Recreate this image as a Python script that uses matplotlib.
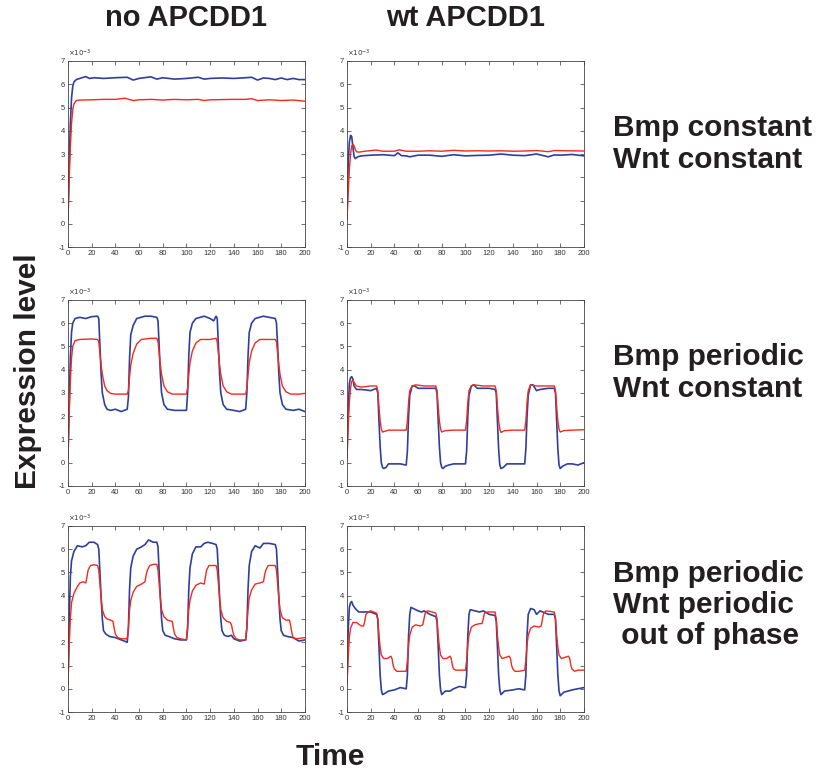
import matplotlib
matplotlib.use('Agg')
import matplotlib.pyplot as plt

# values in units of 1e-3 as (time, level)
# row 1: Bmp constant / Wnt constant
blue_cc_no = [(0, 0.2), (1, 2.5), (2, 4.3), (3, 5.4), (4, 5.9), (5, 6.1), (7, 6.2), (10, 6.25), (15, 6.33),
              (18, 6.25), (22, 6.28), (30, 6.25), (40, 6.28), (50, 6.3), (55, 6.18), (60, 6.25), (70, 6.32),
              (75, 6.22), (80, 6.28), (90, 6.22), (100, 6.25), (110, 6.3), (115, 6.22), (120, 6.25), (130, 6.27),
              (140, 6.25), (150, 6.28), (155, 6.3), (160, 6.18), (165, 6.27), (170, 6.25), (175, 6.2), (180, 6.27),
              (185, 6.2), (190, 6.25), (195, 6.2), (200, 6.2)]
red_cc_no = [(0, 0.2), (1, 1.8), (2, 3.3), (3, 4.3), (4, 4.9), (5, 5.15), (7, 5.3), (10, 5.32), (20, 5.33),
             (30, 5.35), (40, 5.35), (48, 5.4), (55, 5.3), (60, 5.33), (70, 5.35), (80, 5.32), (90, 5.35),
             (100, 5.33), (110, 5.35), (115, 5.3), (120, 5.33), (130, 5.34), (140, 5.35), (150, 5.35),
             (155, 5.38), (160, 5.3), (170, 5.33), (180, 5.3), (190, 5.32), (200, 5.27)]
blue_cc_wt = [(0, 0.2), (1, 2.6), (2, 3.5), (3, 3.8), (4, 3.75), (5, 3.3), (6, 2.9), (7, 2.8), (9, 2.88),
              (12, 2.92), (20, 2.95), (30, 2.97), (40, 2.93), (43, 3.05), (46, 2.93), (50, 2.92), (53, 2.88),
              (60, 2.95), (70, 2.95), (80, 2.9), (90, 2.97), (100, 2.92), (110, 2.94), (120, 2.95), (130, 3.0),
              (140, 2.95), (150, 2.93), (160, 3.0), (170, 2.88), (175, 2.96), (180, 2.95), (190, 2.98), (200, 2.92)]
red_cc_wt = [(0, 0.2), (1, 1.3), (2, 2.3), (3, 3.0), (4, 3.35), (5, 3.42), (6, 3.35), (7, 3.2), (8, 3.1),
             (10, 3.08), (15, 3.12), (25, 3.17), (30, 3.12), (40, 3.12), (44, 3.18), (50, 3.12), (60, 3.12),
             (70, 3.14), (80, 3.12), (90, 3.16), (100, 3.13), (110, 3.14), (120, 3.13), (130, 3.14), (140, 3.12),
             (150, 3.13), (160, 3.15), (170, 3.1), (175, 3.15), (185, 3.14), (200, 3.13)]

# row 2: Bmp periodic / Wnt constant
blue_pc_no = [(0, 0.2), (1, 2.5), (2, 4.5), (3, 5.6), (4, 6.0), (6, 6.2), (10, 6.25), (15, 6.2), (20, 6.28),
              (25, 6.3), (26, 6.2), (27, 5.0), (28, 3.8), (29, 3.0), (31, 2.5), (33, 2.3), (36, 2.25), (40, 2.3),
              (45, 2.2), (50, 2.3), (51, 2.8), (52, 4.5), (53, 5.5), (55, 5.9), (58, 6.2), (65, 6.3), (70, 6.3),
              (75, 6.25), (76, 6.1), (77, 5.0), (78, 3.8), (79, 3.0), (81, 2.5), (84, 2.3), (90, 2.25),
              (95, 2.25), (100, 2.25), (101, 3.0), (102, 4.6), (103, 5.6), (105, 6.0), (108, 6.2), (115, 6.3),
              (120, 6.2), (123, 6.1), (125, 6.3), (126, 6.2), (127, 5.0), (128, 3.8), (129, 3.0), (131, 2.5),
              (134, 2.3), (140, 2.25), (145, 2.2), (150, 2.3), (151, 3.0), (152, 4.6), (153, 5.6), (155, 6.0),
              (158, 6.2), (165, 6.3), (170, 6.25), (175, 6.2), (176, 6.0), (177, 5.0), (178, 3.8), (179, 3.0),
              (181, 2.5), (184, 2.3), (190, 2.25), (195, 2.3), (200, 2.2)]
red_pc_no = [(0, 0.2), (1, 2.0), (2, 3.5), (3, 4.5), (4, 5.0), (6, 5.25), (10, 5.3), (20, 5.32), (25, 5.3),
             (26, 5.2), (27, 4.7), (28, 4.2), (29, 3.8), (31, 3.3), (33, 3.1), (36, 2.98), (40, 2.95), (45, 2.95),
             (50, 2.95), (51, 3.1), (52, 3.7), (53, 4.2), (55, 4.7), (58, 5.1), (62, 5.3), (70, 5.35), (75, 5.35),
             (76, 5.2), (77, 4.7), (78, 4.2), (79, 3.8), (81, 3.3), (84, 3.05), (88, 2.95), (95, 2.95),
             (100, 2.95), (101, 3.2), (102, 3.8), (103, 4.3), (105, 4.8), (108, 5.15), (112, 5.3), (120, 5.3),
             (125, 5.35), (126, 5.2), (127, 4.7), (128, 4.2), (129, 3.8), (131, 3.3), (134, 3.05), (138, 2.95),
             (145, 2.95), (150, 2.95), (151, 3.2), (152, 3.8), (153, 4.3), (155, 4.8), (158, 5.15), (162, 5.3),
             (170, 5.3), (175, 5.3), (176, 5.2), (177, 4.7), (178, 4.2), (179, 3.8), (181, 3.3), (184, 3.05),
             (188, 2.95), (195, 2.95), (200, 2.98)]
blue_pc_wt = [(0, 0.2), (1, 2.3), (2, 3.4), (3, 3.65), (4, 3.7), (5, 3.6), (6, 3.3), (8, 3.15), (12, 3.15),
              (20, 3.1), (25, 3.2), (26, 3.0), (27, 1.8), (28, 0.7), (29, 0.0), (30, -0.2), (31, -0.25),
              (33, -0.2), (35, -0.05), (40, -0.05), (45, -0.05), (50, -0.1), (51, 0.5), (52, 2.0), (53, 2.9),
              (55, 3.3), (57, 3.3), (60, 3.2), (65, 3.2), (70, 3.2), (75, 3.2), (76, 3.0), (77, 1.8), (78, 0.7),
              (79, 0.0), (80, -0.2), (81, -0.25), (83, -0.15), (86, -0.1), (90, -0.05), (95, -0.05), (100, -0.05),
              (101, 0.5), (102, 2.0), (103, 2.9), (105, 3.3), (107, 3.35), (110, 3.2), (120, 3.2), (125, 3.15),
              (126, 3.0), (127, 1.8), (128, 0.6), (129, -0.1), (130, -0.25), (132, -0.2), (135, -0.05),
              (140, -0.05), (145, -0.05), (150, -0.05), (151, 0.6), (152, 2.0), (153, 2.9), (155, 3.35),
              (157, 3.35), (160, 3.1), (163, 3.15), (170, 3.2), (175, 3.2), (176, 3.0), (177, 1.8), (178, 0.6),
              (179, -0.1), (180, -0.25), (182, -0.15), (186, -0.05), (190, -0.05), (195, -0.1), (200, 0.0)]
red_pc_wt = [(0, 0.2), (1, 1.5), (2, 2.6), (3, 3.2), (4, 3.5), (5, 3.55), (6, 3.45), (8, 3.3), (12, 3.25),
             (20, 3.3), (25, 3.3), (26, 3.1), (27, 2.4), (28, 1.8), (29, 1.45), (30, 1.32), (32, 1.35), (35, 1.4),
             (40, 1.4), (45, 1.4), (50, 1.4), (51, 1.8), (52, 2.6), (53, 3.1), (55, 3.3), (58, 3.35), (65, 3.3),
             (70, 3.3), (75, 3.3), (76, 3.1), (77, 2.4), (78, 1.8), (79, 1.45), (80, 1.32), (83, 1.38),
             (90, 1.4), (100, 1.4), (101, 1.8), (102, 2.6), (103, 3.1), (105, 3.3), (107, 3.35), (115, 3.3),
             (125, 3.3), (126, 3.1), (127, 2.4), (128, 1.8), (129, 1.45), (130, 1.3), (133, 1.38), (140, 1.4),
             (150, 1.4), (151, 1.8), (152, 2.6), (153, 3.1), (155, 3.35), (160, 3.3), (170, 3.3), (175, 3.3),
             (176, 3.1), (177, 2.4), (178, 1.8), (179, 1.45), (180, 1.32), (183, 1.38), (190, 1.4), (200, 1.42)]

# row 3: Bmp periodic / Wnt periodic out of phase
blue_pp_no = [(0, 0.2), (1, 2.8), (2, 4.8), (3, 5.5), (5, 5.9), (8, 6.15), (12, 6.1), (15, 6.15), (18, 6.3),
              (22, 6.3), (25, 6.2), (26, 6.0), (27, 5.0), (28, 3.9), (29, 3.0), (30, 2.5), (32, 2.35), (35, 2.25),
              (40, 2.2), (45, 2.1), (50, 2.0), (51, 2.6), (52, 4.3), (53, 5.2), (55, 5.7), (58, 6.0), (62, 6.1),
              (65, 6.2), (68, 6.4), (72, 6.3), (75, 6.3), (76, 6.1), (77, 5.0), (78, 3.9), (79, 3.0), (80, 2.5),
              (82, 2.3), (85, 2.25), (90, 2.15), (95, 2.1), (100, 2.1), (101, 2.6), (102, 4.3), (103, 5.2),
              (105, 5.8), (108, 6.1), (112, 6.1), (115, 6.25), (118, 6.3), (122, 6.25), (125, 6.2), (126, 6.0),
              (127, 5.0), (128, 3.9), (129, 3.0), (130, 2.5), (132, 2.3), (135, 2.25), (138, 2.3), (140, 2.15),
              (145, 2.05), (150, 2.1), (151, 2.6), (152, 4.3), (153, 5.3), (155, 5.9), (158, 6.15), (162, 6.05),
              (165, 6.25), (170, 6.25), (175, 6.2), (176, 6.0), (177, 5.0), (178, 3.9), (179, 3.0), (180, 2.5),
              (182, 2.3), (185, 2.25), (190, 2.2), (195, 2.05), (200, 2.1)]
red_pp_no = [(0, 0.2), (1, 1.8), (2, 3.0), (3, 3.7), (5, 4.1), (8, 4.4), (10, 4.55), (13, 4.6), (15, 4.55),
             (16, 4.8), (17, 5.1), (19, 5.3), (22, 5.33), (25, 5.3), (26, 5.1), (27, 4.5), (28, 3.9), (29, 3.4),
             (31, 3.1), (33, 3.0), (36, 2.95), (38, 2.9), (39, 2.6), (40, 2.35), (42, 2.2), (45, 2.15),
             (50, 2.15), (51, 2.6), (52, 3.4), (53, 3.8), (55, 4.15), (58, 4.4), (62, 4.5), (65, 4.6), (66, 4.9),
             (67, 5.1), (69, 5.3), (72, 5.35), (75, 5.35), (76, 5.1), (77, 4.5), (78, 3.9), (79, 3.4), (81, 3.1),
             (84, 2.95), (88, 2.9), (89, 2.6), (90, 2.35), (92, 2.2), (95, 2.15), (100, 2.1), (101, 2.7),
             (102, 3.4), (103, 3.8), (105, 4.2), (108, 4.45), (112, 4.55), (115, 4.5), (116, 4.8), (117, 5.1),
             (119, 5.3), (125, 5.3), (126, 5.1), (127, 4.5), (128, 3.9), (129, 3.4), (131, 3.05), (134, 2.9),
             (137, 2.85), (138, 2.75), (139, 2.5), (140, 2.3), (142, 2.15), (145, 2.1), (150, 2.1), (151, 2.7),
             (152, 3.4), (153, 3.9), (155, 4.25), (158, 4.5), (162, 4.55), (165, 4.6), (166, 4.9), (167, 5.1),
             (169, 5.3), (175, 5.3), (176, 5.1), (177, 4.5), (178, 3.9), (179, 3.4), (181, 3.05), (184, 2.95),
             (187, 2.95), (188, 2.7), (189, 2.4), (190, 2.2), (193, 2.15), (200, 2.2)]
blue_pp_wt = [(0, 0.2), (1, 2.5), (2, 3.5), (3, 3.7), (4, 3.75), (5, 3.6), (7, 3.45), (10, 3.3), (15, 3.3),
              (20, 3.3), (25, 3.2), (26, 3.0), (27, 1.8), (28, 0.6), (29, -0.05), (30, -0.25), (32, -0.2),
              (35, -0.1), (40, -0.05), (45, 0.05), (50, 0.0), (51, 0.6), (52, 2.3), (53, 3.2), (54, 3.5),
              (56, 3.45), (60, 3.35), (63, 3.3), (65, 3.35), (70, 3.2), (75, 3.1), (76, 2.9), (77, 1.8), (78, 0.6),
              (79, -0.05), (80, -0.25), (83, -0.1), (87, -0.1), (90, 0.0), (95, 0.1), (100, 0.05), (101, 0.6),
              (102, 2.3), (103, 3.2), (104, 3.4), (108, 3.35), (112, 3.3), (115, 3.35), (120, 3.2), (125, 3.15),
              (126, 2.9), (127, 1.8), (128, 0.6), (129, -0.05), (130, -0.25), (133, -0.1), (140, -0.05),
              (145, 0.0), (150, -0.05), (151, 0.6), (152, 2.3), (153, 3.2), (155, 3.45), (158, 3.4), (160, 3.2),
              (163, 3.35), (170, 3.2), (175, 3.2), (176, 3.0), (177, 1.8), (178, 0.6), (179, -0.1), (180, -0.3),
              (183, -0.15), (190, -0.05), (195, 0.0), (200, 0.05)]
red_pp_wt = [(0, 0.2), (1, 1.3), (2, 2.2), (3, 2.6), (5, 2.85), (8, 2.85), (12, 2.7), (14, 2.7), (15, 2.9),
             (16, 3.2), (18, 3.3), (20, 3.35), (25, 3.25), (26, 3.0), (27, 2.3), (28, 1.8), (29, 1.45), (31, 1.3),
             (34, 1.3), (37, 1.4), (38, 1.3), (39, 1.0), (40, 0.85), (42, 0.75), (45, 0.75), (50, 0.75),
             (51, 1.2), (52, 1.9), (53, 2.3), (55, 2.65), (58, 2.75), (62, 2.7), (64, 2.75), (65, 3.0),
             (66, 3.25), (68, 3.35), (72, 3.3), (75, 3.25), (76, 3.0), (77, 2.3), (78, 1.8), (79, 1.45),
             (81, 1.3), (84, 1.3), (87, 1.4), (88, 1.3), (89, 1.0), (90, 0.85), (92, 0.8), (95, 0.8), (100, 0.8),
             (101, 1.2), (102, 1.9), (103, 2.3), (105, 2.65), (108, 2.75), (112, 2.8), (114, 2.8), (115, 3.0),
             (116, 3.25), (118, 3.3), (125, 3.3), (126, 3.0), (127, 2.3), (128, 1.8), (129, 1.45), (131, 1.3),
             (134, 1.35), (137, 1.4), (138, 1.3), (139, 1.0), (140, 0.85), (142, 0.75), (145, 0.75), (150, 0.8),
             (151, 1.2), (152, 1.9), (153, 2.3), (155, 2.6), (158, 2.7), (162, 2.65), (164, 2.7), (165, 3.0),
             (166, 3.25), (168, 3.35), (175, 3.3), (176, 3.0), (177, 2.3), (178, 1.8), (179, 1.45), (181, 1.3),
             (184, 1.35), (187, 1.4), (188, 1.3), (189, 1.0), (190, 0.85), (192, 0.75), (195, 0.8), (200, 0.8)]

col_titles = ['no APCDD1', 'wt APCDD1']
row_titles = ['Bmp constant\nWnt constant', 'Bmp periodic\nWnt constant',
              'Bmp periodic\nWnt periodic\n out of phase']
panels = [[(blue_cc_no, red_cc_no), (blue_cc_wt, red_cc_wt)],
          [(blue_pc_no, red_pc_no), (blue_pc_wt, red_pc_wt)],
          [(blue_pp_no, red_pp_no), (blue_pp_wt, red_pp_wt)]]
x_ticks = list(range(0, 201, 20))
y_ticks = list(range(-1, 8))

BLUE = '#2e3f9e'
RED = '#f5291c'

plt.rcParams['font.family'] = ['Liberation Sans', 'DejaVu Sans']
plt.rcParams['axes.unicode_minus'] = False
fig = plt.figure(figsize=(8.17, 7.72), dpi=100)

lefts = [0.0832, 0.4247]
bottoms = [0.680, 0.3705, 0.0777]
w, h = 0.290, 0.241

for r in range(3):
    for c in range(2):
        ax = fig.add_axes([lefts[c], bottoms[r], w, h])
        blue, red = panels[r][c]
        ax.plot([p[0] for p in blue], [p[1] for p in blue], color=BLUE, lw=1.2)
        ax.plot([p[0] for p in red], [p[1] for p in red], color=RED, lw=1.0)
        ax.set_xlim(0, 200)
        ax.set_ylim(-1, 7)
        ax.set_xticks(x_ticks)
        ax.set_yticks(y_ticks)
        ax.tick_params(direction='in', top=True, right=True, length=3, width=0.5,
                       labelsize=5.5, colors='#333333', pad=2)
        for s in ax.spines.values():
            s.set_linewidth(0.6)
            s.set_color('#444444')
        ax.text(0.0, 1.008, r'$\times10^{-3}$', transform=ax.transAxes,
                fontsize=5, color='#333333', ha='left', va='bottom')

for c, title in enumerate(col_titles):
    fig.text(lefts[c] + w / 2, 1 - 18 / 772, title, ha='center', va='center',
             fontsize=21, fontweight='bold', color='#231f20')

row_y = [144, 373, 605]
for r, title in enumerate(row_titles):
    fig.text(613 / 817, 1 - row_y[r] / 772, title, ha='left', va='center',
             fontsize=21.5, fontweight='bold', color='#231f20', linespacing=1.15)

fig.text(28 / 817, 1 - 371 / 772, 'Expression level', rotation=90, ha='center', va='center',
         fontsize=21.5, fontweight='bold', color='#231f20')
fig.text(330 / 817, 1 - 757 / 772, 'Time', ha='center', va='center',
         fontsize=21.5, fontweight='bold', color='#231f20')

fig.savefig('out.png', dpi=100)
